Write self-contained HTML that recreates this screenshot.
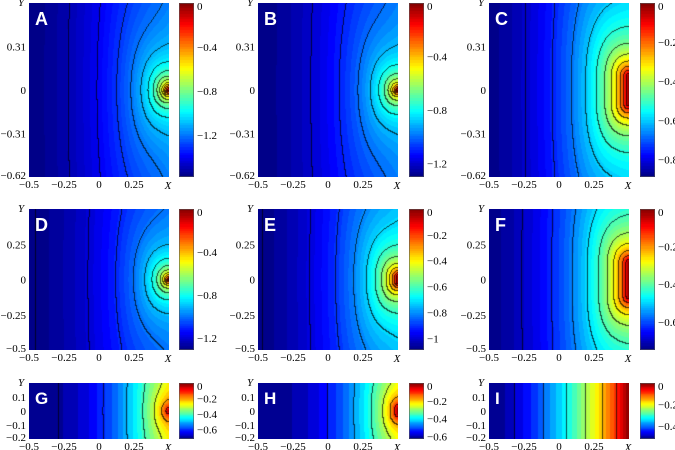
<!DOCTYPE html>
<html><head><meta charset="utf-8"><style>
body{margin:0;background:#fff;width:675px;height:450px;overflow:hidden;position:relative;font-family:"Liberation Serif",serif}
canvas{position:absolute;z-index:1}
svg{position:absolute;left:0;top:0;z-index:5}
</style></head><body>
<div id="root"></div>
<svg id="ov" width="675" height="450"></svg>
<script>
// ---- data ----
const panelLetters = ['A','B','C','D','E','F','G','H','I'];
const panelMin = [-1.58,-1.3,-0.89,-1.31,-1.09,-0.75,-0.72,-0.63,-0.52];
const decayLen = [0.06,0.06,0.16,0.055,0.09,0.16,0.06,0.07,0.25];
const sourceHalf = [0,0,0.1,0,0.02,0.12,0,0.02,0.2];
const linearWeight = [0.22,0.22,0.25,0.2,0.25,0.28,0.55,0.5,0.85];
const linearExp = [1.6,1.6,1.6,1.6,1.6,1.6,2.2,2.2,1.5];
const lineStep = [0.1,0.1,0.075,0.1,0.09,0.07,0.1,0.09,0.08];
const xTickLabels = ['-0.5','-0.25','0','0.25'];
const xTickValues = [-0.5,-0.25,0,0.25];
const rowYRange = [0.62,0.5,0.2];
const rowYTicks = [[0.31,0,-0.31,-0.62],[0.25,0,-0.25,-0.5],[0.1,0,-0.1,-0.2]];
const cbTicks = [[0,-0.4,-0.8,-1.2],[0,-0.4,-0.8,-1.2],[0,-0.2,-0.4,-0.6,-0.8],
  [0,-0.4,-0.8,-1.2],[0,-0.2,-0.4,-0.6,-0.8,-1],[0,-0.2,-0.4,-0.6],
  [0,-0.2,-0.4,-0.6],[0,-0.2,-0.4,-0.6],[0,-0.2,-0.4]];
// ---- layout ----
const colX=[29,258,489], cbX=[179,409,640], PW=140, CBW=15;
const rowTop=[3,209,383], rowH=[174,141,56];
const NS='http://www.w3.org/2000/svg', ov=document.getElementById('ov');
function jet(t){t=Math.max(0,Math.min(1,t));const c=v=>Math.round(255*Math.max(0,Math.min(1,v)));
 return [c(1.5-Math.abs(4*t-3)),c(1.5-Math.abs(4*t-2)),c(1.5-Math.abs(4*t-1))];}
function txt(x,y,s,anchor,name,extra){const t=document.createElementNS(NS,'text');
 t.setAttribute('x',x);t.setAttribute('y',y);t.setAttribute('text-anchor',anchor);
 t.setAttribute('font-size','11');t.setAttribute('font-family','Liberation Serif, serif');
 if(extra)for(const k in extra)t.setAttribute(k,extra[k]);
 t.textContent=s;
 
 
 ov.appendChild(t);return t;}
function field(p,x,y){
 const L=decayLen[p],h=sourceHalf[p],a=linearWeight[p];
 const dx=0.5-x;
 const dy=(Math.abs(y)>h?Math.abs(y)-h:0)*Math.exp(-dx/0.55);
 const d=Math.sqrt(dx*dx+dy*dy);
 const g0=1/(1+d/L), gf=1/(1+1.1/L);
 const g=(g0-gf)/(1-gf);
 const lin=Math.pow(Math.max(0,(x+0.5)),linearExp[p]);
 return Math.max(0,Math.min(1,(1-a)*g+a*lin));
}
for(let p=0;p<9;p++){
 const r=Math.floor(p/3),c=p%3;
 const X0=colX[c],Y0=rowTop[r],H=rowH[r],yr=rowYRange[r],vmin=panelMin[p];
 const cv=document.createElement('canvas');cv.width=PW;cv.height=H;
 cv.style.left=X0+'px';cv.style.top=Y0+'px';
 
 
 document.body.appendChild(cv);
 const ctx=cv.getContext('2d'),img=ctx.createImageData(PW,H);
 const vals=new Float32Array(PW*H);
 for(let j=0;j<H;j++)for(let i=0;i<PW;i++){
  const x=-0.5+(i+0.5)/PW, y=yr-(j+0.5)/H*2*yr;
  vals[j*PW+i]=vmin*(1-field(p,x,y));}
 const step=lineStep[p], band=step/4;
 for(let j=0;j<H;j++)for(let i=0;i<PW;i++){
  const v=vals[j*PW+i];
  const q=(Math.floor((v-vmin)/band)+0.5)*band;
  let col=jet(q/(-vmin));
  const li=Math.floor(v/step);
  let edge=false;
  if(i+1<PW&&Math.floor(vals[j*PW+i+1]/step)!==li)edge=true;
  if(j+1<H&&Math.floor(vals[(j+1)*PW+i]/step)!==li)edge=true;
  if(edge)col=col.map(k=>Math.round(k*0.3));
  const o=(j*PW+i)*4;img.data[o]=col[0];img.data[o+1]=col[1];img.data[o+2]=col[2];img.data[o+3]=255;}
 ctx.putImageData(img,0,0);
 const cb=document.createElement('canvas');cb.width=CBW;cb.height=H;
 cb.style.left=cbX[c]+'px';cb.style.top=Y0+'px';
 
 
 document.body.appendChild(cb);
 const bx=cb.getContext('2d');
 for(let j=0;j<H;j++){const t=1-(j+0.5)/H;const k=jet(Math.floor(t*64)/64+1/128);bx.fillStyle=`rgb(${k})`;bx.fillRect(0,j,CBW,1);}
 const fr=document.createElementNS(NS,'rect');
 fr.setAttribute('x',cbX[c]+0.5);fr.setAttribute('y',Y0+0.5);fr.setAttribute('width',CBW-1);fr.setAttribute('height',H-1);
 fr.setAttribute('fill','none');fr.setAttribute('stroke','#555');fr.setAttribute('stroke-width','0.6');
 
 
 ov.appendChild(fr);
 cbTicks[p].forEach(v=>{const yy=Y0+(v/vmin)*H;
  txt(cbX[c]+CBW+3,Math.max(Y0+7,Math.min(Y0+H+3,yy+4)),String(v).replace('-','\u2212'),'start','colorbar-tick-label');});
 xTickValues.forEach((v,k)=>{txt(X0+(v+0.5)*PW,Y0+H+11,xTickLabels[k].replace('-','\u2212'),'middle','x-tick-label');});
 txt(X0+PW-1,Y0+H+12,'X','middle','x-axis-title',{'font-style':'italic'});
 rowYTicks[r].forEach(v=>{const yy=Y0+(yr-v)/(2*yr)*H;
  txt(X0-3,Math.min(Y0+H+2,yy+4),String(v).replace('-','\u2212'),'end','y-tick-label');});
 txt(X0-8,Y0+3,'Y','middle','y-axis-title',{'font-style':'italic'});
 txt(X0+6,Y0+(r==2?21:22),panelLetters[p],'start','panel-label-'+panelLetters[p].toLowerCase(),
  {'font-family':'Liberation Sans, sans-serif','font-size':r==2?'17':'18','font-weight':'bold','fill':'#fff'});
}
</script>
</body></html>
